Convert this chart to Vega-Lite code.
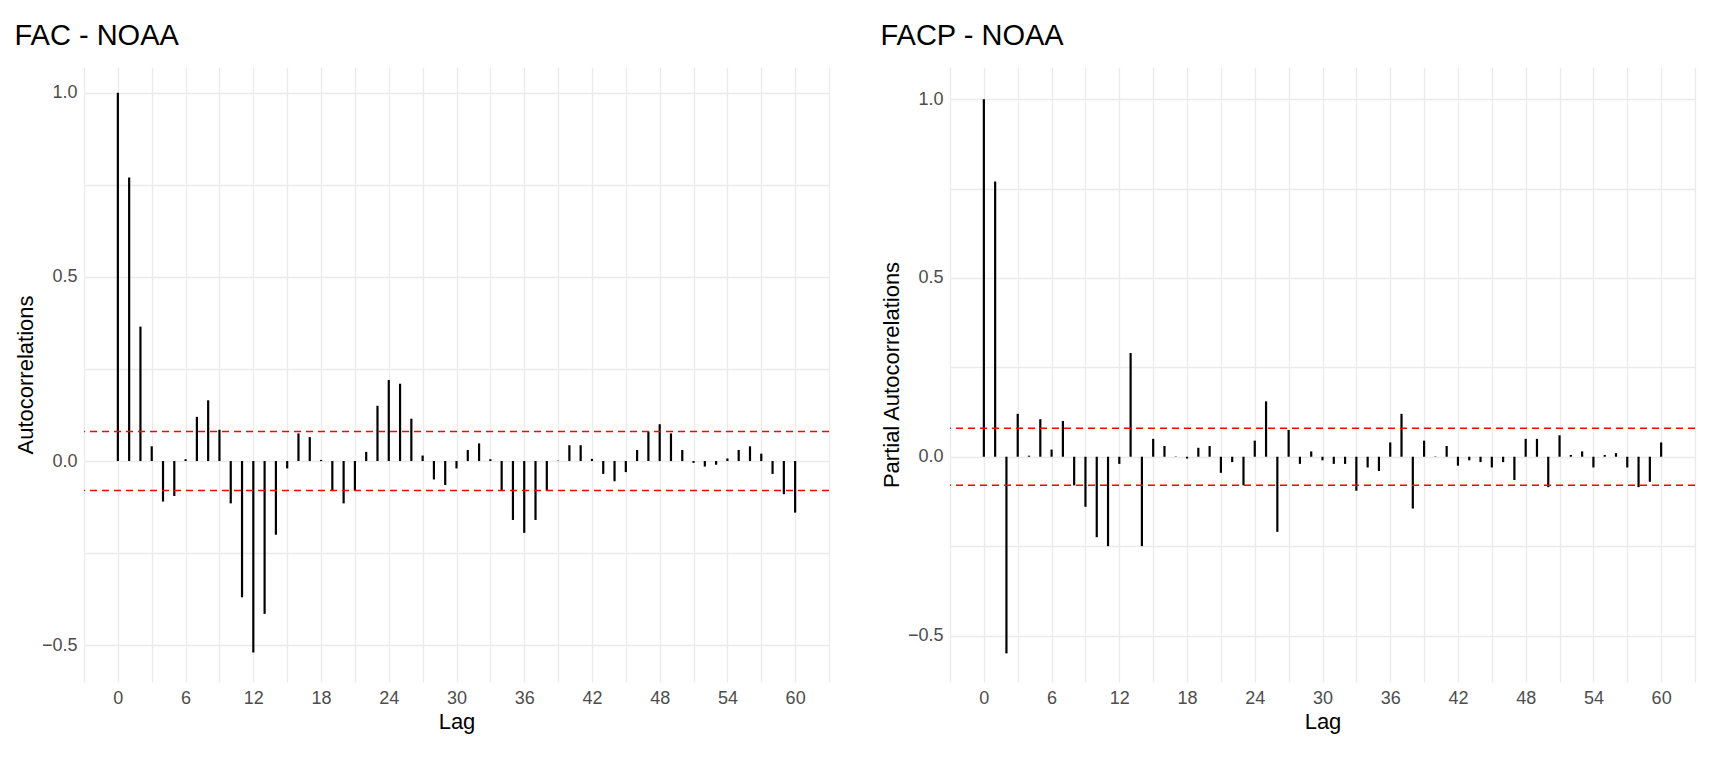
{
  "$schema": "https://vega.github.io/schema/vega-lite/v6.json",
  "background": "white",
  "padding": {"left": 14, "top": 22, "right": 10, "bottom": 5},
  "spacing": 50,
  "config": {
    "font": "Liberation Sans",
    "view": {"stroke": null},
    "title": {"fontSize": 29, "fontWeight": "normal", "anchor": "start", "color": "#000", "offset": 16},
    "axis": {
      "domain": false, "ticks": false, "gridColor": "#ebebeb", "gridWidth": 1.3,
      "labelFontSize": 18, "labelColor": "#4d4d4d", "titleFontSize": 22,
      "titleFontWeight": "normal", "titleColor": "#000", "labelPadding": 7
    }
  },
  "datasets": {
    "acf": [
      {"lag":0,"v":1.0},{"lag":1,"v":0.77},{"lag":2,"v":0.365},{"lag":3,"v":0.04},{"lag":4,"v":-0.11},
      {"lag":5,"v":-0.095},{"lag":6,"v":0.005},{"lag":7,"v":0.12},{"lag":8,"v":0.165},{"lag":9,"v":0.085},
      {"lag":10,"v":-0.115},{"lag":11,"v":-0.37},{"lag":12,"v":-0.52},{"lag":13,"v":-0.415},{"lag":14,"v":-0.2},
      {"lag":15,"v":-0.02},{"lag":16,"v":0.075},{"lag":17,"v":0.065},{"lag":18,"v":0.003},{"lag":19,"v":-0.08},
      {"lag":20,"v":-0.115},{"lag":21,"v":-0.08},{"lag":22,"v":0.025},{"lag":23,"v":0.15},{"lag":24,"v":0.22},
      {"lag":25,"v":0.21},{"lag":26,"v":0.115},{"lag":27,"v":0.015},{"lag":28,"v":-0.05},{"lag":29,"v":-0.065},
      {"lag":30,"v":-0.02},{"lag":31,"v":0.03},{"lag":32,"v":0.048},{"lag":33,"v":0.005},{"lag":34,"v":-0.08},
      {"lag":35,"v":-0.16},{"lag":36,"v":-0.195},{"lag":37,"v":-0.16},{"lag":38,"v":-0.08},{"lag":39,"v":0.001},
      {"lag":40,"v":0.043},{"lag":41,"v":0.043},{"lag":42,"v":0.006},{"lag":43,"v":-0.035},{"lag":44,"v":-0.055},
      {"lag":45,"v":-0.03},{"lag":46,"v":0.03},{"lag":47,"v":0.08},{"lag":48,"v":0.1},{"lag":49,"v":0.075},
      {"lag":50,"v":0.03},{"lag":51,"v":-0.005},{"lag":52,"v":-0.015},{"lag":53,"v":-0.01},{"lag":54,"v":0.007},
      {"lag":55,"v":0.03},{"lag":56,"v":0.04},{"lag":57,"v":0.02},{"lag":58,"v":-0.035},{"lag":59,"v":-0.09},
      {"lag":60,"v":-0.14}
    ],
    "pacf": [
      {"lag":0,"v":1.0},{"lag":1,"v":0.77},{"lag":2,"v":-0.55},{"lag":3,"v":0.12},{"lag":4,"v":0.003},
      {"lag":5,"v":0.105},{"lag":6,"v":0.02},{"lag":7,"v":0.1},{"lag":8,"v":-0.08},{"lag":9,"v":-0.14},
      {"lag":10,"v":-0.225},{"lag":11,"v":-0.25},{"lag":12,"v":-0.02},{"lag":13,"v":0.29},{"lag":14,"v":-0.25},
      {"lag":15,"v":0.05},{"lag":16,"v":0.03},{"lag":17,"v":0.001},{"lag":18,"v":-0.005},{"lag":19,"v":0.025},
      {"lag":20,"v":0.03},{"lag":21,"v":-0.045},{"lag":22,"v":-0.015},{"lag":23,"v":-0.08},{"lag":24,"v":0.045},
      {"lag":25,"v":0.155},{"lag":26,"v":-0.21},{"lag":27,"v":0.075},{"lag":28,"v":-0.02},{"lag":29,"v":0.015},
      {"lag":30,"v":-0.01},{"lag":31,"v":-0.02},{"lag":32,"v":-0.02},{"lag":33,"v":-0.095},{"lag":34,"v":-0.03},
      {"lag":35,"v":-0.04},{"lag":36,"v":0.04},{"lag":37,"v":0.12},{"lag":38,"v":-0.145},{"lag":39,"v":0.045},
      {"lag":40,"v":0.001},{"lag":41,"v":0.03},{"lag":42,"v":-0.025},{"lag":43,"v":-0.01},{"lag":44,"v":-0.015},
      {"lag":45,"v":-0.03},{"lag":46,"v":-0.015},{"lag":47,"v":-0.065},{"lag":48,"v":0.05},{"lag":49,"v":0.05},
      {"lag":50,"v":-0.085},{"lag":51,"v":0.06},{"lag":52,"v":0.005},{"lag":53,"v":0.015},{"lag":54,"v":-0.03},
      {"lag":55,"v":0.005},{"lag":56,"v":0.01},{"lag":57,"v":-0.03},{"lag":58,"v":-0.085},{"lag":59,"v":-0.07},
      {"lag":60,"v":0.04}
    ],
    "bands": [{"b": 0.08}, {"b": -0.08}]
  },
  "hconcat": [
    {
      "title": "FAC - NOAA",
      "width": 745,
      "height": 615,
      "layer": [
        {
          "data": {"name": "acf"},
          "mark": {"type": "rule", "strokeWidth": 2.2, "color": "black"},
          "encoding": {
            "x": {"field": "lag", "type": "quantitative", "title": "Lag",
              "scale": {"domain": [-3, 63], "nice": false, "zero": false},
              "axis": {"values": [-3,0,3,6,9,12,15,18,21,24,27,30,33,36,39,42,45,48,51,54,57,60,63], "labelExpr": "datum.value % 6 == 0 ? datum.label : ''", "labelFlush": false}},
            "y": {"field": "v", "type": "quantitative", "title": "Autocorrelations",
              "scale": {"domain": [-0.6, 1.07], "nice": false, "zero": false},
              "axis": {"values": [-0.75,-0.5,-0.25,0,0.25,0.5,0.75,1.0], "labelExpr": "datum.value % 0.5 == 0 ? format(datum.value, '.1f') : ''"}},
            "y2": {"datum": 0}
          }
        },
        {
          "data": {"name": "bands"},
          "mark": {"type": "rule", "color": "red", "strokeDash": [7, 5], "strokeWidth": 1.5},
          "encoding": {"y": {"field": "b", "type": "quantitative"}}
        }
      ]
    },
    {
      "title": "FACP - NOAA",
      "width": 745,
      "height": 615,
      "layer": [
        {
          "data": {"name": "pacf"},
          "mark": {"type": "rule", "strokeWidth": 2.2, "color": "black"},
          "encoding": {
            "x": {"field": "lag", "type": "quantitative", "title": "Lag",
              "scale": {"domain": [-3, 63], "nice": false, "zero": false},
              "axis": {"values": [-3,0,3,6,9,12,15,18,21,24,27,30,33,36,39,42,45,48,51,54,57,60,63], "labelExpr": "datum.value % 6 == 0 ? datum.label : ''", "labelFlush": false}},
            "y": {"field": "v", "type": "quantitative", "title": "Partial Autocorrelations",
              "scale": {"domain": [-0.63, 1.09], "nice": false, "zero": false},
              "axis": {"values": [-0.75,-0.5,-0.25,0,0.25,0.5,0.75,1.0], "labelExpr": "datum.value % 0.5 == 0 ? format(datum.value, '.1f') : ''"}},
            "y2": {"datum": 0}
          }
        },
        {
          "data": {"name": "bands"},
          "mark": {"type": "rule", "color": "red", "strokeDash": [7, 5], "strokeWidth": 1.5},
          "encoding": {"y": {"field": "b", "type": "quantitative"}}
        }
      ]
    }
  ]
}
